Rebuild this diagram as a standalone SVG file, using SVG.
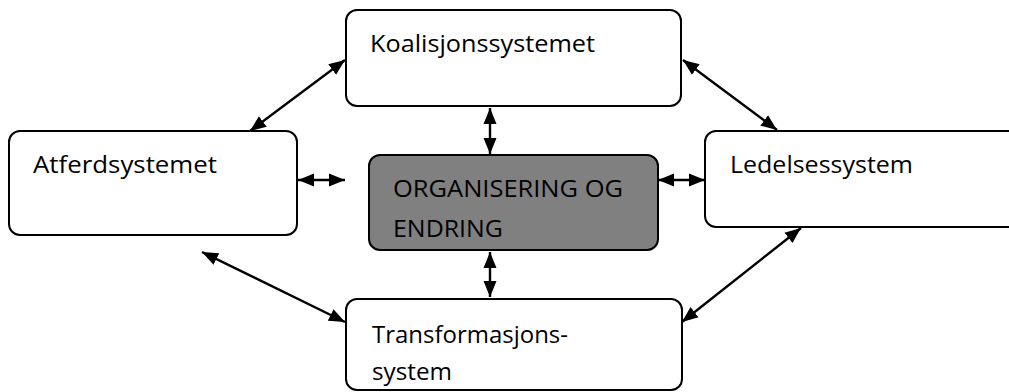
<svg xmlns="http://www.w3.org/2000/svg" width="1009" height="392" viewBox="0 0 1009 392">
<style>
.box{fill:#ffffff;stroke:#000000;stroke-width:2}
.core{fill:#808080;stroke:#000000;stroke-width:2}
.lbl{font-family:"Open Sans","Liberation Sans",sans-serif;font-size:24px;fill:#000000}
.con{stroke:#000000;stroke-width:2.4;fill:none;marker-start:url(#ah);marker-end:url(#ah)}
</style>
<defs>
<marker id="ah" markerUnits="userSpaceOnUse" markerWidth="18" markerHeight="16" viewBox="0 0 18 16" refX="16" refY="8" orient="auto-start-reverse">
<path d="M0,1.5 L16,8 L0,14.5 Z" fill="#000000"/>
</marker>
</defs>
<g id="koalisjon">
<rect class="box" x="346" y="10" width="335" height="96" rx="11"/>
<text class="lbl" x="370" y="52" textLength="225" lengthAdjust="spacingAndGlyphs">Koalisjonssystemet</text>
</g>
<g id="atferd">
<rect class="box" x="9" y="131" width="288" height="104" rx="11"/>
<text class="lbl" x="33" y="173" textLength="184" lengthAdjust="spacingAndGlyphs">Atferdsystemet</text>
</g>
<g id="organisering">
<rect class="core" x="369" y="155" width="289" height="95" rx="11"/>
<text class="lbl" x="393" y="197" textLength="230" lengthAdjust="spacingAndGlyphs">ORGANISERING OG</text>
<text class="lbl" x="393" y="237" textLength="110" lengthAdjust="spacingAndGlyphs">ENDRING</text>
</g>
<g id="ledelse">
<rect class="box" x="705" y="131" width="320" height="96" rx="11"/>
<text class="lbl" x="730" y="173" textLength="183" lengthAdjust="spacingAndGlyphs">Ledelsessystem</text>
</g>
<g id="transformasjon">
<rect class="box" x="346" y="299" width="336" height="91" rx="11"/>
<text class="lbl" x="372" y="343" textLength="196" lengthAdjust="spacingAndGlyphs">Transformasjons-</text>
<text class="lbl" x="372" y="380" textLength="80" lengthAdjust="spacingAndGlyphs">system</text>
</g>
<g id="connectors">
<line class="con" x1="250" y1="131" x2="345" y2="60"/>
<line class="con" x1="683" y1="60" x2="777" y2="130"/>
<line class="con" x1="490" y1="108" x2="490" y2="154"/>
<line class="con" x1="298" y1="180" x2="345" y2="180"/>
<line class="con" x1="658" y1="180" x2="705" y2="180"/>
<line class="con" x1="490" y1="252" x2="490" y2="297"/>
<line class="con" x1="202" y1="252" x2="345" y2="322"/>
<line class="con" x1="801" y1="228" x2="682" y2="322"/>
</g>
</svg>
